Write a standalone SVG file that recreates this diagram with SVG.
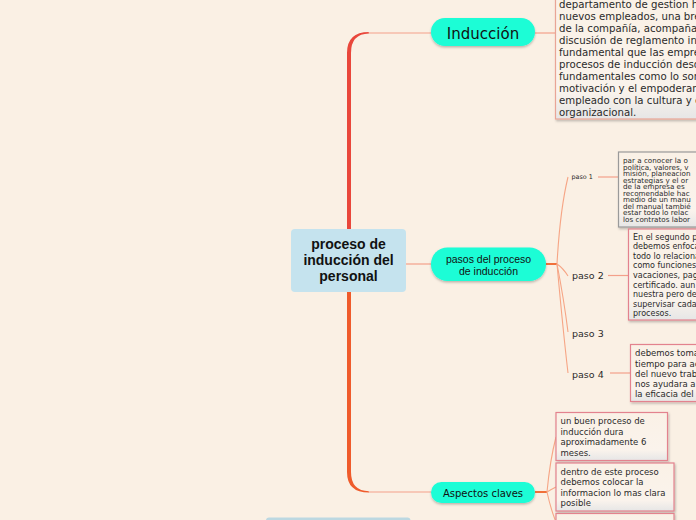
<svg xmlns="http://www.w3.org/2000/svg" width="696" height="520" viewBox="0 0 696 520">
<style>
.bg{fill:#FAF0E4}
.topic{fill:#1BFDD6;filter:url(#sh)}
.thin{fill:none;stroke:#F4A08A;stroke-width:1.2}
.fan{fill:none;stroke:#F6A585;stroke-width:1.1}
.box{fill:url(#bx);filter:url(#sh2)}
.pk{stroke:#E3828E;stroke-width:1.2}
.gy{stroke:#9A9A9A;stroke-width:1.2}
.sal{stroke:#E9A596;stroke-width:1.2}
text{font-family:"DejaVu Sans","Verdana",sans-serif;fill:#2A2A2A}
.c{text-anchor:middle}
.main{font-family:"Liberation Sans",Arial,sans-serif;font-weight:bold;font-size:14px;fill:#111}
.t10{font-size:10.2px}
.t8{font-size:8px}
.t76{font-size:7.2px}
.t85{font-size:8.5px}
.lbl{font-size:9.5px}
</style>
<defs>
<linearGradient id="bx" x1="0" y1="0" x2="0" y2="1">
<stop offset="0" stop-color="#FAF1E6"/>
<stop offset="0.78" stop-color="#FAF3EC"/>
<stop offset="1" stop-color="#E6E6E6"/>
</linearGradient>
<filter id="sh" x="-20%" y="-30%" width="140%" height="170%">
<feDropShadow dx="0" dy="1.5" stdDeviation="1.2" flood-color="#000" flood-opacity="0.25"/>
</filter>
<filter id="sh2" x="-10%" y="-10%" width="130%" height="130%">
<feDropShadow dx="1" dy="1.5" stdDeviation="1" flood-color="#000" flood-opacity="0.25"/>
</filter>
</defs>
<rect class="bg" x="0" y="0" width="696" height="520"/>

<g id="connectors">
<path d="M347,229 L347,53 Q347,32 369,32 L369,33.6 Q351,34 351,53 L351,229 Z" fill="#E9473B"/>
<path d="M347,292 L347,472 Q347,492.6 369,492.6 L369,491.2 Q351,491 351,472 L351,292 Z" fill="#EF5B2B"/>
<line class="thin" x1="368" y1="33" x2="431" y2="33"/>
<line class="thin" x1="368" y1="492" x2="431" y2="492"/>
<line class="thin" x1="406" y1="264" x2="431" y2="264"/>
<line class="thin" x1="535" y1="33" x2="556" y2="33"/>
<line x1="546" y1="264" x2="557" y2="264" stroke="#F0703A" stroke-width="2"/>
<path class="fan" d="M557,264 Q560,210 568,177"/>
<path class="fan" d="M557,264 Q563,268 568,276"/>
<path class="fan" d="M557,264 Q564,300 568,332"/>
<path class="fan" d="M557,264 Q563,330 568,373"/>
<line class="thin" x1="598" y1="177" x2="618" y2="177"/>
<line class="thin" x1="608" y1="275.5" x2="629" y2="275.5"/>
<line class="thin" x1="610" y1="373" x2="630" y2="373"/>
<line x1="535" y1="492" x2="547" y2="492" stroke="#F0703A" stroke-width="2"/>
<path class="fan" d="M547,492 Q550,460 556,437"/>
<path class="fan" d="M547,492 Q552,489 556,487"/>
<path class="fan" d="M547,492 Q551,510 556,522"/>
</g>

<g id="central">
<rect x="291" y="229" width="115" height="63" rx="4" fill="#C5E3EE"/>
<text class="main c" x="348.5" y="249">proceso de</text>
<text class="main c" x="348.5" y="265">inducción del</text>
<text class="main c" x="348.5" y="281">personal</text>
</g>

<g id="induccion">
<rect class="topic" x="431" y="18" width="104" height="28" rx="14"/>
<text class="c" x="483" y="38.5" style="font-size:15px;fill:#111">Inducción</text>
</g>

<g id="induccion-text">
<rect class="box sal" x="555.5" y="-6" width="160" height="125"/>
<text class="t10"><tspan x="559" y="7.5">departamento de gestion h</tspan><tspan x="559" y="19.5">nuevos empleados, una bre</tspan><tspan x="559" y="31.5">de la compañía, acompañad</tspan><tspan x="559" y="43.5">discusión de reglamento int</tspan><tspan x="559" y="55.5">fundamental que las empre</tspan><tspan x="559" y="67.5">procesos de inducción desd</tspan><tspan x="559" y="79.5">fundamentales como lo son</tspan><tspan x="559" y="91.5">motivación y el empoderam</tspan><tspan x="559" y="103.5">empleado con la cultura y e</tspan><tspan x="559" y="115.5">organizacional.</tspan></text>
</g>

<g id="pasos">
<rect class="topic" x="431" y="247.5" width="115" height="33.5" rx="16.5"/>
<text class="c" x="488.5" y="262.5" style="font-family:'Liberation Sans',Arial,sans-serif;font-size:10.5px;fill:#111">pasos del proceso</text>
<text class="c" x="488.5" y="274.5" style="font-family:'Liberation Sans',Arial,sans-serif;font-size:10.5px;fill:#111">de inducción</text>
</g>

<g id="paso1">
<text x="571.5" y="179" style="font-size:6.4px">paso 1</text>
</g>
<g id="paso1-text">
<rect class="box gy" x="618.5" y="152" width="100" height="75"/>
<text class="t76"><tspan x="623" y="163">par a conocer la o</tspan><tspan x="623" y="169.5">política, valores, v</tspan><tspan x="623" y="176">misión, planeacion</tspan><tspan x="623" y="182.5">estrategias y el or</tspan><tspan x="623" y="189">de la empresa es</tspan><tspan x="623" y="195.5">recomendable hac</tspan><tspan x="623" y="202">medio de un manu</tspan><tspan x="623" y="208.5">del manual tambié</tspan><tspan x="623" y="215">estar todo lo relac</tspan><tspan x="623" y="221.5">los contratos labor</tspan></text>
</g>

<g id="paso2">
<text class="lbl" x="572" y="279">paso 2</text>
</g>
<g id="paso2-text">
<rect class="box pk" x="628.5" y="229" width="100" height="91"/>
<text class="t8"><tspan x="633" y="239.5">En el segundo p</tspan><tspan x="633" y="249.1">debemos enfoca</tspan><tspan x="633" y="258.7">todo lo relaciona</tspan><tspan x="633" y="268.3">como funciones</tspan><tspan x="633" y="277.9">vacaciones, pag</tspan><tspan x="633" y="287.5">certificado. aun</tspan><tspan x="633" y="297.1">nuestra pero de</tspan><tspan x="633" y="306.7">supervisar cada</tspan><tspan x="633" y="316.3">procesos.</tspan></text>
</g>

<g id="paso3">
<text class="lbl" x="572" y="336.5">paso 3</text>
</g>

<g id="paso4">
<text class="lbl" x="572" y="377.5">paso 4</text>
</g>
<g id="paso4-text">
<rect class="box pk" x="630.5" y="344.5" width="100" height="57"/>
<text class="t85"><tspan x="635" y="356.3">debemos toma</tspan><tspan x="635" y="366.5">tiempo para ac</tspan><tspan x="635" y="376.7">del nuevo trab</tspan><tspan x="635" y="386.9">nos ayudara a</tspan><tspan x="635" y="397.1">la eficacia del</tspan></text>
</g>

<g id="aspectos">
<rect class="topic" x="431" y="482" width="104" height="21" rx="10.5"/>
<text class="c" x="483" y="496.5" style="font-size:10px;fill:#111">Aspectos claves</text>
</g>

<g id="aspecto1">
<rect class="box pk" x="556" y="412.5" width="111.5" height="48"/>
<text class="t85"><tspan x="560.5" y="424">un buen proceso de</tspan><tspan x="560.5" y="434.5">inducción dura</tspan><tspan x="560.5" y="445">aproximadamente 6</tspan><tspan x="560.5" y="455.5">meses.</tspan></text>
</g>
<g id="aspecto2">
<rect class="box pk" x="556" y="463" width="118" height="48"/>
<text class="t85"><tspan x="560.5" y="474.5">dentro de este proceso</tspan><tspan x="560.5" y="485">debemos colocar la</tspan><tspan x="560.5" y="495.5">informacion lo mas clara</tspan><tspan x="560.5" y="506">posible</tspan></text>
</g>
<g id="aspecto3">
<rect class="box pk" x="556" y="513.5" width="118" height="20"/>
</g>

<g id="bottom-node">
<rect x="266" y="517.5" width="144.5" height="20" rx="3" fill="#BCD8E1"/>
</g>
</svg>
